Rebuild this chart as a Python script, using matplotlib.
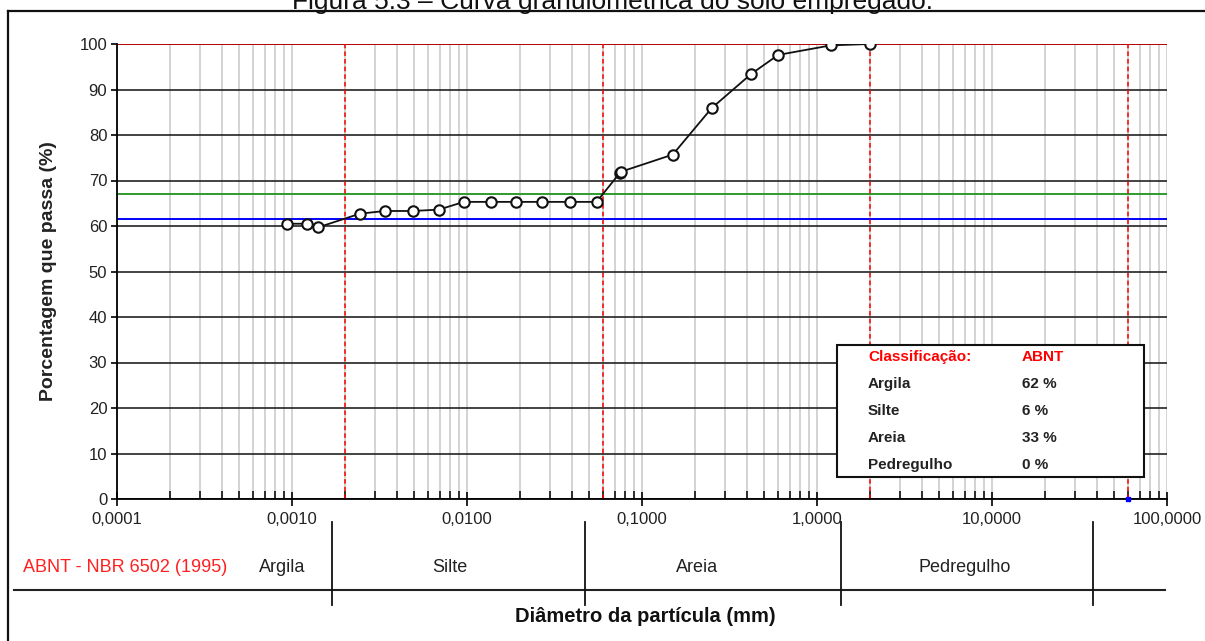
import numpy as np
import matplotlib.pyplot as plt
from matplotlib.ticker import FixedLocator, LogLocator, FuncFormatter, NullFormatter
from matplotlib.lines import Line2D

plt.rcParams['font.family'] = ['Liberation Sans', 'DejaVu Sans']

# ensaio de granulometria (sedimentacao + peneiramento)
diam = [0.00094, 0.00122, 0.00141, 0.00244, 0.00339, 0.0049, 0.0069, 0.0096,
        0.0138, 0.019, 0.0267, 0.0388, 0.055, 0.0745, 0.0755, 0.15, 0.25,
        0.42, 0.6, 1.2, 2.0]
passa = [60.5, 60.5, 59.7, 62.7, 63.3, 63.3, 63.6, 65.3,
         65.3, 65.3, 65.3, 65.3, 65.3, 71.6, 71.9, 75.7, 85.9,
         93.4, 97.6, 99.7, 100.0]

limites_abnt = [0.002, 0.06, 2.0, 60.0]
linha_verde = 67.0
linha_azul = 61.5

classes = ['Argila', 'Silte', 'Areia', 'Pedregulho']
percentuais = ['62 %', '6 %', '33 %', '0 %']
xticks = [0.0001, 0.001, 0.01, 0.1, 1, 10, 100]
yticks = list(range(0, 101, 10))

W, H = 1205, 641
fig = plt.figure(figsize=(W / 100, H / 100), dpi=100)


def fx(px):
    return px / W


def fy(py):
    return 1 - py / H


ax = fig.add_axes([fx(117), fy(499), fx(1167) - fx(117), fy(44) - fy(499)])
ax.set_xscale('log')
ax.set_xlim(0.0001, 100)
ax.set_ylim(0, 100)

# grades
ax.xaxis.set_major_locator(FixedLocator(xticks))
ax.xaxis.set_minor_locator(LogLocator(base=10, subs=np.arange(2, 10)))
ax.xaxis.set_major_formatter(FuncFormatter(lambda v, p: f"{v:.4f}".replace('.', ',')))
ax.xaxis.set_minor_formatter(NullFormatter())
ax.grid(which='both', axis='x', color='#c8c8c8', lw=1.1, zorder=0)
ax.set_yticks(yticks)
ax.grid(which='major', axis='y', color='#222222', lw=1.2, zorder=1)
ax.set_axisbelow(True)

for s in ['top', 'right']:
    ax.spines[s].set_visible(False)
ax.spines['left'].set_lw(1.3)
ax.spines['bottom'].set_lw(1.3)
ax.tick_params(axis='y', direction='out', length=4, width=1.2, labelsize=12,
               pad=3, labelcolor='#222222')
ax.tick_params(axis='x', which='major', direction='inout', length=10, width=1.2,
               labelsize=12, pad=4, labelcolor='#222222')
ax.tick_params(axis='x', which='minor', direction='in', length=6, width=1.1)

ax.axhline(100, color='#c00000', lw=1.3, zorder=2)
ax.axhline(linha_verde, color='#2e9a2e', lw=1.4, zorder=2)
ax.axhline(linha_azul, color='#0000ff', lw=1.4, zorder=2)
for lim in limites_abnt:
    ax.axvline(lim, color='#ff0000', lw=1.1, ls=(0, (3, 2)), zorder=2)
ax.plot([limites_abnt[-1]], [0], marker='s', ms=3, color='#0000ff',
        clip_on=False, zorder=5)

ax.plot(diam, passa, color='#111111', lw=1.3, marker='o', ms=7.5,
        mfc='white', mec='#111111', mew=1.5, zorder=6)

ax.set_ylabel('Porcentagem que passa (%)', fontsize=14, fontweight='bold',
              color='#222222')
ax.yaxis.set_label_coords((57 - 117) / 1050, 0.5)

# quadro de classificacao
box = plt.Rectangle((fx(837), fy(477)), fx(1144) - fx(837), fy(345) - fy(477),
                    transform=fig.transFigure, facecolor='white',
                    edgecolor='#111111', lw=1.5, zorder=10)
fig.patches.append(box)
fig.text(fx(868), fy(357), 'Classificação:', color='#ff0000', fontsize=11,
         fontweight='bold', va='center', zorder=11)
fig.text(fx(1022), fy(357), 'ABNT', color='#ff0000', fontsize=11,
         fontweight='bold', va='center', zorder=11)
for i, (c, p) in enumerate(zip(classes, percentuais)):
    yy = 384 + 27 * i
    fig.text(fx(868), fy(yy), c, fontsize=11, fontweight='bold', va='center',
             color='#222222', zorder=11)
    fig.text(fx(1022), fy(yy), p, fontsize=11, fontweight='bold', va='center',
             color='#222222', zorder=11)

# faixa inferior com a escala ABNT
fig.add_artist(Line2D([fx(14), fx(1165)], [fy(590), fy(590)], color='#222222', lw=1.5))
for xp in [332, 585, 841, 1093]:
    fig.add_artist(Line2D([fx(xp), fx(xp)], [fy(522), fy(605)], color='#111111', lw=1.3))
fig.text(fx(125), fy(568), 'ABNT - NBR 6502 (1995)', color='#ff2020', fontsize=13,
         ha='center', va='center')
for txt, xp in zip(classes, [282, 450, 697, 965]):
    fig.text(fx(xp), fy(568), txt, fontsize=13, ha='center', va='center',
             color='#222222')
fig.text(fx(645), fy(616), 'Diâmetro da partícula (mm)', fontsize=14.5,
         fontweight='bold', ha='center', va='center', color='#111111')

# moldura e titulo cortado
fig.add_artist(Line2D([fx(8), fx(8)], [fy(11), 0], color='#111111', lw=1.6))
fig.add_artist(Line2D([fx(8), 1], [fy(11), fy(11)], color='#111111', lw=1.6))
fig.text(fx(612), fy(9), 'Figura 5.3 – Curva granulométrica do solo empregado.',
         fontsize=19, ha='center', va='baseline', color='#111111')

fig.savefig('out.png', dpi=100)
